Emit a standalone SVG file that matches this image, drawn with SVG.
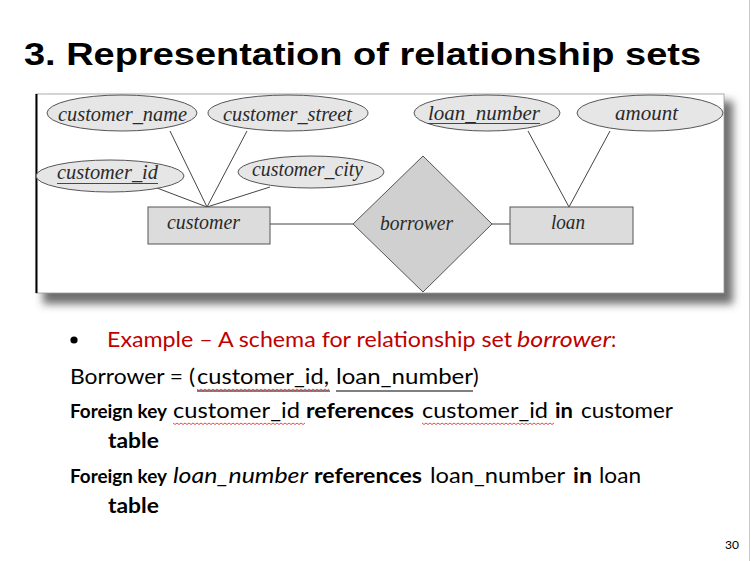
<svg xmlns="http://www.w3.org/2000/svg" width="751" height="561" viewBox="0 0 751 561">
<style>
.er{font-family:"Liberation Serif","DejaVu Serif",serif;font-style:italic;font-size:20px;fill:#2a2a2a}
.att{fill:#e6e6e6;stroke:#555;stroke-width:1}
.ent{fill:#dcdcdc;stroke:#555;stroke-width:1}
.rel{fill:#d0d0d0;stroke:#555;stroke-width:1}
.con line{stroke:#444;stroke-width:1}
.b{font-family:Lato,"Liberation Sans",sans-serif;font-size:21px;fill:#000}
.bold{font-weight:bold}
.fk{font-family:Lato,"Liberation Sans",sans-serif;font-size:18px;font-weight:bold;fill:#000}
.wave{fill:none;stroke:#e02020;stroke-width:0.8}
</style>
<defs>
<filter id="sh" x="-5%" y="-10%" width="115%" height="130%"><feGaussianBlur stdDeviation="4"/></filter>
</defs>
<rect width="751" height="561" fill="#fff"/>
<line x1="749.5" y1="0" x2="749.5" y2="561" stroke="#c8c8c8" stroke-width="1"/>
<text x="24" y="65" font-family="Liberation Sans,Arial,sans-serif" font-weight="bold" font-size="32" textLength="677" lengthAdjust="spacingAndGlyphs" fill="#000">3. Representation of relationship sets</text>

<g id="frame">
<rect x="43" y="101" width="690" height="203" fill="#6e6e6e" filter="url(#sh)"/>
<rect x="36" y="94" width="688" height="199" fill="#fff" stroke="#9a9a9a" stroke-width="0.8"/>
<line x1="36.5" y1="94" x2="36.5" y2="293" stroke="#000" stroke-width="2"/>
</g>

<g id="connectors" class="con">
<line x1="170" y1="131" x2="207" y2="207"/>
<line x1="247" y1="131" x2="207" y2="207"/>
<line x1="157" y1="188" x2="207" y2="207"/>
<line x1="270" y1="187" x2="207" y2="207"/>
<line x1="270" y1="224" x2="353" y2="224" stroke="#777"/>
<line x1="492" y1="224" x2="510" y2="224" stroke="#777"/>
<line x1="528" y1="131" x2="569" y2="207"/>
<line x1="610" y1="131" x2="569" y2="207"/>
</g>

<g id="customer_name">
<ellipse class="att" cx="122" cy="113" rx="75" ry="18"/>
<text class="er" x="58" y="121" textLength="129" lengthAdjust="spacingAndGlyphs">customer_name</text>
</g>
<g id="customer_street">
<ellipse class="att" cx="288" cy="113" rx="80" ry="18"/>
<text class="er" x="223" y="121" textLength="129" lengthAdjust="spacingAndGlyphs">customer_street</text>
</g>
<g id="customer_id">
<ellipse class="att" cx="110" cy="176" rx="74" ry="16"/>
<text class="er" x="57" y="179" textLength="101" lengthAdjust="spacingAndGlyphs">customer_id</text>
<line x1="57" y1="183.5" x2="158" y2="183.5" stroke="#333" stroke-width="0.9"/>
</g>
<g id="customer_city">
<ellipse class="att" cx="311" cy="172" rx="73" ry="16"/>
<text class="er" x="252" y="176" textLength="111" lengthAdjust="spacingAndGlyphs">customer_city</text>
</g>
<g id="loan_number">
<ellipse class="att" cx="487" cy="113" rx="73" ry="18"/>
<text class="er" x="428" y="120" textLength="112" lengthAdjust="spacingAndGlyphs">loan_number</text>
<line x1="428" y1="123.5" x2="540" y2="123.5" stroke="#333" stroke-width="0.9"/>
</g>
<g id="amount">
<ellipse class="att" cx="650" cy="113" rx="73" ry="18"/>
<text class="er" x="615" y="120" textLength="63" lengthAdjust="spacingAndGlyphs">amount</text>
</g>
<g id="customer">
<rect class="ent" x="148" y="207" width="122" height="37"/>
<text class="er" x="167" y="229" textLength="73" lengthAdjust="spacingAndGlyphs">customer</text>
</g>
<g id="borrower">
<polygon class="rel" points="423,156 492,224 423,292 353,224"/>
<text class="er" x="380" y="230" textLength="73" lengthAdjust="spacingAndGlyphs">borrower</text>
</g>
<g id="loan">
<rect class="ent" x="510" y="207" width="123" height="37"/>
<text class="er" x="551" y="229" textLength="34" lengthAdjust="spacingAndGlyphs">loan</text>
</g>

<g id="body">
<circle cx="74" cy="340" r="3.6" fill="#000"/>
<text class="b" x="107" y="347" style="fill:#c00000" textLength="405" lengthAdjust="spacingAndGlyphs">Example – A schema for relationship set</text>
<text class="b" x="517" y="347" style="fill:#c00000;font-style:italic" textLength="94" lengthAdjust="spacingAndGlyphs">borrower</text>
<text class="b" x="611" y="347" style="fill:#c00000">:</text>

<text class="b" x="70" y="384" textLength="125" lengthAdjust="spacingAndGlyphs">Borrower = (</text>
<text class="b" x="197" y="384" textLength="132" lengthAdjust="spacingAndGlyphs">customer_id,</text>
<text class="b" x="336" y="384" textLength="137" lengthAdjust="spacingAndGlyphs">loan_number</text>
<text class="b" x="473" y="384">)</text>
<line x1="197" y1="391" x2="330" y2="391" stroke="#000" stroke-width="1.2"/>
<line x1="336" y1="391" x2="473" y2="391" stroke="#000" stroke-width="1.2"/>
<path class="wave" d="M197,389 l2,1.5 l2,-1.5 l2,1.5 l2,-1.5 l2,1.5 l2,-1.5 l2,1.5 l2,-1.5 l2,1.5 l2,-1.5 l2,1.5 l2,-1.5 l2,1.5 l2,-1.5 l2,1.5 l2,-1.5 l2,1.5 l2,-1.5 l2,1.5 l2,-1.5 l2,1.5 l2,-1.5 l2,1.5 l2,-1.5 l2,1.5 l2,-1.5 l2,1.5 l2,-1.5 l2,1.5 l2,-1.5 l2,1.5 l2,-1.5 l2,1.5 l2,-1.5 l2,1.5 l2,-1.5 l2,1.5 l2,-1.5 l2,1.5 l2,-1.5 l2,1.5 l2,-1.5 l2,1.5 l2,-1.5 l2,1.5 l2,-1.5 l2,1.5 l2,-1.5 l2,1.5 l2,-1.5 l2,1.5 l2,-1.5 l2,1.5 l2,-1.5 l2,1.5 l2,-1.5 l2,1.5 l2,-1.5 l2,1.5 l2,-1.5 l2,1.5 l2,-1.5 l2,1.5 l2,-1.5 l2,1.5 l2,-1.5"/>

<text class="fk" x="70" y="418" textLength="97" lengthAdjust="spacingAndGlyphs">Foreign key</text>
<text class="b" x="173" y="418" textLength="127" lengthAdjust="spacingAndGlyphs">customer_id</text>
<text class="b bold" x="306" y="418" textLength="108" lengthAdjust="spacingAndGlyphs">references</text>
<text class="b" x="422" y="418" textLength="126" lengthAdjust="spacingAndGlyphs">customer_id</text>
<text class="b bold" x="555" y="418" textLength="18" lengthAdjust="spacingAndGlyphs">in</text>
<text class="b" x="581" y="418" textLength="92" lengthAdjust="spacingAndGlyphs">customer</text>
<path class="wave" d="M173,423 l2,1.5 l2,-1.5 l2,1.5 l2,-1.5 l2,1.5 l2,-1.5 l2,1.5 l2,-1.5 l2,1.5 l2,-1.5 l2,1.5 l2,-1.5 l2,1.5 l2,-1.5 l2,1.5 l2,-1.5 l2,1.5 l2,-1.5 l2,1.5 l2,-1.5 l2,1.5 l2,-1.5 l2,1.5 l2,-1.5 l2,1.5 l2,-1.5 l2,1.5 l2,-1.5 l2,1.5 l2,-1.5 l2,1.5 l2,-1.5 l2,1.5 l2,-1.5 l2,1.5 l2,-1.5 l2,1.5 l2,-1.5 l2,1.5 l2,-1.5 l2,1.5 l2,-1.5 l2,1.5 l2,-1.5 l2,1.5 l2,-1.5 l2,1.5 l2,-1.5 l2,1.5 l2,-1.5 l2,1.5 l2,-1.5 l2,1.5 l2,-1.5 l2,1.5 l2,-1.5 l2,1.5 l2,-1.5 l2,1.5 l2,-1.5 l2,1.5 l2,-1.5 l2,1.5 l2,-1.5 l2,1.5 l2,-1.5"/>
<path class="wave" d="M422,423 l2,1.5 l2,-1.5 l2,1.5 l2,-1.5 l2,1.5 l2,-1.5 l2,1.5 l2,-1.5 l2,1.5 l2,-1.5 l2,1.5 l2,-1.5 l2,1.5 l2,-1.5 l2,1.5 l2,-1.5 l2,1.5 l2,-1.5 l2,1.5 l2,-1.5 l2,1.5 l2,-1.5 l2,1.5 l2,-1.5 l2,1.5 l2,-1.5 l2,1.5 l2,-1.5 l2,1.5 l2,-1.5 l2,1.5 l2,-1.5 l2,1.5 l2,-1.5 l2,1.5 l2,-1.5 l2,1.5 l2,-1.5 l2,1.5 l2,-1.5 l2,1.5 l2,-1.5 l2,1.5 l2,-1.5 l2,1.5 l2,-1.5 l2,1.5 l2,-1.5 l2,1.5 l2,-1.5 l2,1.5 l2,-1.5 l2,1.5 l2,-1.5 l2,1.5 l2,-1.5 l2,1.5 l2,-1.5 l2,1.5 l2,-1.5 l2,1.5 l2,-1.5 l2,1.5 l2,-1.5 l2,1.5 l2,-1.5"/>
<text class="b bold" x="108" y="448" textLength="51" lengthAdjust="spacingAndGlyphs">table</text>

<text class="fk" x="70" y="483" textLength="97" lengthAdjust="spacingAndGlyphs">Foreign key</text>
<text class="b" x="173" y="483" style="font-style:italic" textLength="135" lengthAdjust="spacingAndGlyphs">loan_number</text>
<text class="b bold" x="314" y="483" textLength="108" lengthAdjust="spacingAndGlyphs">references</text>
<text class="b" x="430" y="483" textLength="135" lengthAdjust="spacingAndGlyphs">loan_number</text>
<text class="b bold" x="573" y="483" textLength="19" lengthAdjust="spacingAndGlyphs">in</text>
<text class="b" x="599" y="483" textLength="42" lengthAdjust="spacingAndGlyphs">loan</text>
<text class="b bold" x="108" y="513" textLength="51" lengthAdjust="spacingAndGlyphs">table</text>

<text x="725" y="549" font-family="Lato,Liberation Sans,sans-serif" font-size="12" fill="#000">30</text>
</g>
</svg>
